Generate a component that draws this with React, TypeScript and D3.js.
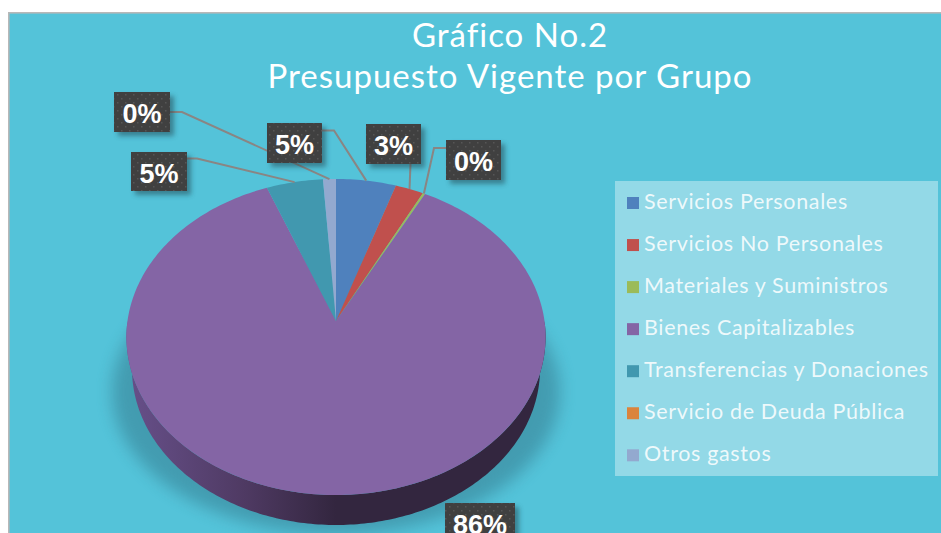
import React from "react";
import * as d3 from "d3";

const titleLines = ["Gráfico No.2", "Presupuesto Vigente por Grupo"];
const categories = ["Servicios Personales", "Servicios No Personales", "Materiales y Suministros", "Bienes Capitalizables", "Transferencias y Donaciones", "Servicio de Deuda Pública", "Otros gastos"];
const values = [5.1, 2.4, 0.2, 86.4, 4.8, 0, 1.1];
const labels = ["5%", "3%", "0%", "86%", "5%", "", "0%"];
const colors = ["#4f81bd", "#c0504d", "#9bbb59", "#8465a5", "#4198af", "#db843d", "#93a9cf"];
// label box: x, y, w, h; leader: points from box to the slice
const boxes: ([number, number, number, number] | null)[] = [
  [267, 123, 55, 40], [366, 124, 55, 40], [446, 140, 55, 40], [445, 503, 70, 40], [131, 152, 56, 39], null, [114, 92, 56, 40],
];
const leaders: [number, number][][] = [
  [[322, 130.5], [334, 130.5]], [[410.5, 164]], [[446, 148], [434, 148]], [], [[187, 158.5], [197, 158.5]], [], [[170, 112], [182, 112]],
];

const apex = { x: 336, y: 321 };
const persp = 0.1013, R = 208.5, B = 156.4;
const project = (a: number, r = 1) => {
  const u = r * Math.sin(a), v = r * Math.cos(a), w = 1 + persp * v;
  return [apex.x + (R * u) / w, apex.y - (B * v) / w] as [number, number];
};

export default function App() {
  const arcs = d3.pie<number>().sort(null)(values);
  const line = d3.line();
  const slicePath = (s: number, e: number) => {
    const n = Math.max(2, Math.ceil((e - s) / 0.02));
    const pts = d3.range(n + 1).map((i) => project(s + ((e - s) * i) / n));
    return line([[apex.x, apex.y], ...pts])! + "Z";
  };
  // side wall: front half of the top rim joined to a lower, slightly smaller rim
  const ys = d3.range(0, 181).map((i) => (Math.PI / 2) * (1 + i / 90));
  const sideTop = ys.map((a) => project(a));
  const sideBot = ys.slice().reverse().map((a) => [336 + 204 * Math.sin(a), 369 - 156 * Math.cos(a)] as [number, number]);
  const sidePath = line([...sideTop, [336 - 204, 369] as [number, number], ...sideBot])! + "Z";
  const font = "Lato, 'Open Sans', sans-serif";
  return (
    <svg width={941} height={533} viewBox="0 0 941 533" style={{ position: "fixed", left: 0, top: 0, display: "block" }}>
      <defs>
        <linearGradient id="side" x1="0" x2="1" y1="0" y2="0">
          <stop offset="0" stopColor="#67508a" />
          <stop offset="0.28" stopColor="#4f3a63" />
          <stop offset="0.5" stopColor="#33263f" />
          <stop offset="1" stopColor="#33263f" />
        </linearGradient>
        <filter id="blur" x="-20%" y="-20%" width="140%" height="140%"><feGaussianBlur stdDeviation="8" /></filter>
        <filter id="boxShadow" x="-30%" y="-30%" width="170%" height="170%"><feGaussianBlur stdDeviation="2.5" /></filter>
        <pattern id="dots" width={8} height={8} patternUnits="userSpaceOnUse">
          <rect width={8} height={8} fill="#404040" />
          <rect x={1} y={2} width={1.5} height={1.5} fill="#565656" />
          <rect x={5} y={6} width={1.5} height={1.5} fill="#565656" />
        </pattern>
      </defs>
      <rect width={941} height={533} fill="#fff" />
      <rect x={8.8} y={12.8} width={940} height={530} fill="#54c3d9" stroke="#b8b8b8" strokeWidth={1.6} />
      {titleLines.map((t, i) => (
        <text key={t} x={510} y={47 + i * 41} textAnchor="middle" fill="#fff" fontFamily={font} fontSize={33} letterSpacing={1}>{t}</text>
      ))}
      <ellipse cx={336} cy={392} rx={224} ry={142} fill="#2f6d80" opacity={0.45} filter="url(#blur)" />
      <path d={sidePath} fill="url(#side)" />
      {arcs.map((a, i) => values[i] > 0 && <path key={i} d={slicePath(a.startAngle, a.endAngle)} fill={colors[i]} />)}
      {arcs.map((a, i) => {
        const b = leaders[i];
        if (!b || !b.length) return null;
        const mid = project((a.startAngle + a.endAngle) / 2);
        return <path key={i} d={line([...b, mid])!} fill="none" stroke="#8a8583" strokeWidth={2} />;
      })}
      {boxes.map((b, i) => b && (
        <g key={i}>
          <rect x={b[0] + 4} y={b[1] + 4} width={b[2]} height={b[3]} fill="#1f3f4a" opacity={0.5} filter="url(#boxShadow)" />
          <rect x={b[0]} y={b[1]} width={b[2]} height={b[3]} fill="url(#dots)" />
          <text x={b[0] + b[2] / 2} y={b[1] + 31} textAnchor="middle" fill="#fff" fontFamily="'Liberation Sans', Arial, sans-serif" fontWeight={700} fontSize={27}>{labels[i]}</text>
        </g>
      ))}
      <rect x={615} y={181} width={323} height={295} fill="#fff" opacity={0.37} />
      {categories.map((c, i) => {
        const y = 203 + i * 42.05;
        return (
          <g key={c}>
            <rect x={627} y={y - 6} width={12} height={12} fill={colors[i]} />
            <text x={644} y={y + 6} fill="#fff" fillOpacity={0.85} fontFamily={font} fontSize={21.5} letterSpacing={0.65}>{c}</text>
          </g>
        );
      })}
    </svg>
  );
}
